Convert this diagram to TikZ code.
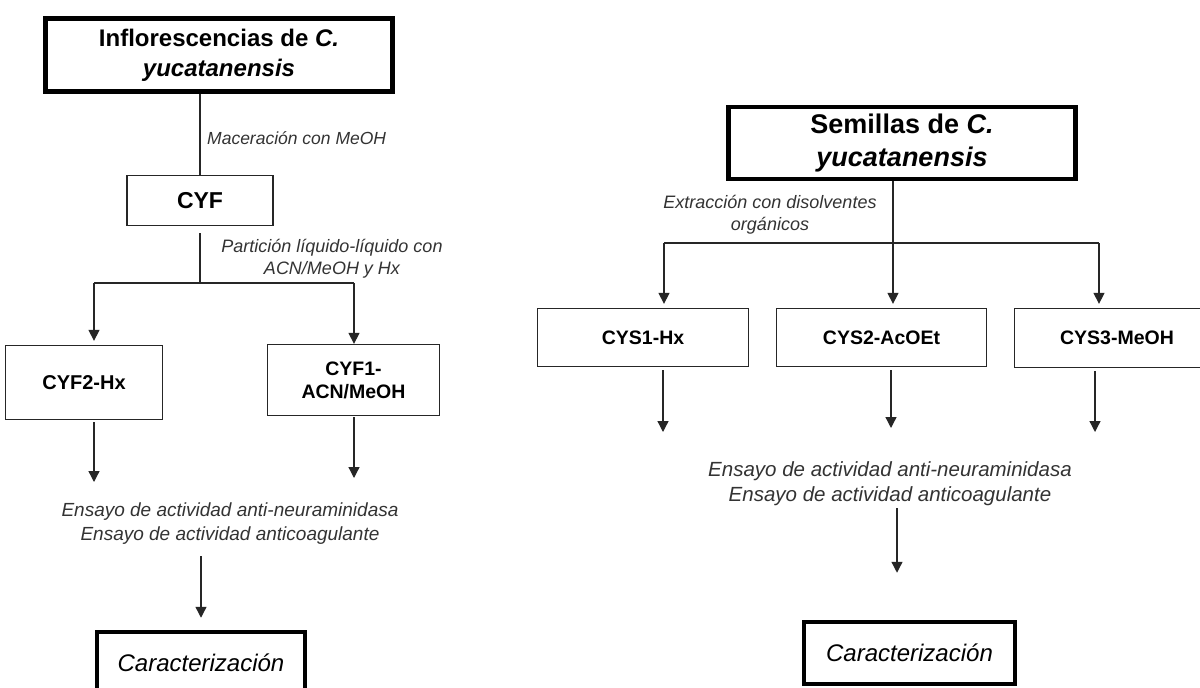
\documentclass[tikz,border=0pt]{standalone}
\usepackage{fontspec}
\setmainfont{Liberation Sans}
\usetikzlibrary{arrows.meta,calc}
\begin{document}
\begin{tikzpicture}[x=1pt,y=-1pt,
  thickbox/.style={draw=black, line width=4.5pt, fill=white, align=center, inner sep=0pt},
  thinbox/.style={draw=black!85, line width=1.3pt, fill=white, align=center, inner sep=0pt},
  lbl/.style={text=black!80, align=center, inner sep=0pt},
  conn/.style={draw=black!85, line width=1.3pt},
  arr/.style={conn, -{Triangle[width=11pt,length=11pt]}},
]
\useasboundingbox (0,0) rectangle (1200,688);
\clip (0,0) rectangle (1200,688);
\fill[white] (0,0) rectangle (1200,688);

% ---------- left diagram ----------
\node[thickbox, minimum width=347pt, minimum height=73pt,
      font=\bfseries\fontsize{24}{30}\selectfont] (inf) at (219,55)
      {Inflorescencias de \textit{C.}\\\textit{yucatanensis}};
\node[thinbox, minimum width=146pt, minimum height=50pt,
      font=\bfseries\fontsize{23}{28}\selectfont] (cyf) at (200,200.5) {CYF};
\node[lbl, anchor=west, font=\itshape\fontsize{17.5}{21}\selectfont] (mac) at (207,138)
      {Maceración con MeOH};
\node[lbl, font=\itshape\fontsize{18}{22}\selectfont] (part) at (332,259)
      {Partición líquido-líquido con\\ACN/MeOH y Hx};
\node[thinbox, minimum width=157pt, minimum height=74pt,
      font=\bfseries\fontsize{20}{24}\selectfont] (cyf2) at (84,382.5) {CYF2-Hx};
\node[thinbox, minimum width=172pt, minimum height=71pt,
      font=\bfseries\fontsize{19.5}{23}\selectfont] (cyf1) at (353.5,380) {CYF1-\\ACN/MeOH};
\node[lbl, font=\itshape\fontsize{19}{24}\selectfont] (ens1) at (230,524)
      {Ensayo de actividad anti-neuraminidasa\\Ensayo de actividad anticoagulante};
\node[thickbox, minimum width=208pt, minimum height=62pt,
      font=\itshape\fontsize{24}{28}\selectfont] (car1) at (201,663) {Caracterización};

\coordinate (jL) at (94,283);
\coordinate (jR) at (354,283);
\coordinate (eL) at (94,482);
\coordinate (eR) at (354,478);

\draw[conn] (cyf.north |- inf.south) -- (cyf.north);
\draw[conn, shorten <=7pt] (cyf.south) -- (cyf.south |- jL);
\draw[conn] (jL) -- (jR);
\draw[arr, shorten >=4pt] (jL) -- (jL |- cyf2.north);
\draw[arr] (jR) -- (jR |- cyf1.north);
\draw[arr, shorten <=2pt] (eL |- cyf2.south) -- (eL);
\draw[arr, shorten <=1pt] (eR |- cyf1.south) -- (eR);
\draw[arr, shorten <=11pt, shorten >=12pt] (car1.north |- ens1.south) -- (car1.north);

% ---------- right diagram ----------
\node[thickbox, minimum width=347pt, minimum height=72pt,
      font=\bfseries\fontsize{27}{33}\selectfont] (sem) at (902,143)
      {Semillas de \textit{C.}\\\textit{yucatanensis}};
\node[lbl, font=\itshape\fontsize{18}{22}\selectfont] (ext) at (770,215)
      {Extracción con disolventes\\orgánicos};
\node[thinbox, minimum width=211pt, minimum height=58pt,
      font=\bfseries\fontsize{19.5}{24}\selectfont] (cys1) at (643,337.5) {CYS1-Hx};
\node[thinbox, minimum width=210pt, minimum height=58pt,
      font=\bfseries\fontsize{19.5}{24}\selectfont] (cys2) at (881.5,337.5) {CYS2-AcOEt};
\node[thinbox, minimum width=205pt, minimum height=59pt,
      font=\bfseries\fontsize{19.5}{24}\selectfont] (cys3) at (1117,338) {CYS3-MeOH};
\node[lbl, font=\itshape\fontsize{20.5}{25}\selectfont] (ens2) at (890,484)
      {Ensayo de actividad anti-neuraminidasa\\Ensayo de actividad anticoagulante};
\node[thickbox, minimum width=211pt, minimum height=62pt,
      font=\itshape\fontsize{24}{28}\selectfont] (car2) at (909.5,653) {Caracterización};

\coordinate (rL) at (664,243);
\coordinate (rC) at (893,243);
\coordinate (rR) at (1099,243);
\coordinate (dA) at (663,432);
\coordinate (dB) at (891,428);
\coordinate (dC) at (1095,432);

\draw[conn] (rC |- sem.south) -- (rC);
\draw[conn] (rL) -- (rR);
\draw[arr, shorten >=4pt] (rL) -- (rL |- cys1.north);
\draw[arr, shorten >=4pt] (rC) -- (rC |- cys2.north);
\draw[arr, shorten >=4pt] (rR) -- (rR |- cys3.north);
\draw[arr, shorten <=3pt] (dA |- cys1.south) -- (dA);
\draw[arr, shorten <=3pt] (dB |- cys2.south) -- (dB);
\draw[arr, shorten <=3pt] (dC |- cys3.south) -- (dC);
\draw[arr, shorten <=2pt, shorten >=47pt] (897,0 |- ens2.south) -- (897,0 |- car2.north);
\end{tikzpicture}
\end{document}
